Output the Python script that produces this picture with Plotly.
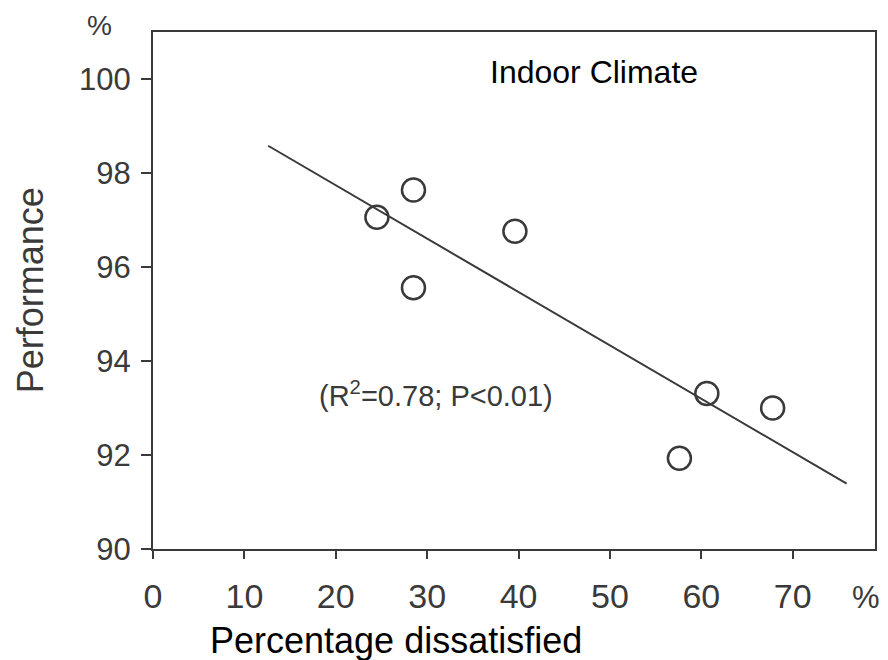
import plotly.graph_objects as go

# Data
dissatisfied = [24.5, 28.5, 28.5, 39.6, 60.6, 67.8, 57.6]
performance = [97.06, 97.64, 95.56, 96.76, 93.31, 93.0, 91.93]

# Regression line end points as drawn
fit_x = [12.6, 75.9]
fit_y = [98.58, 91.39]

x_ticks = [0, 10, 20, 30, 40, 50, 60, 70]
y_ticks = [90, 92, 94, 96, 98, 100]

INK = "#3a3a3a"
FONT = "Liberation Sans, Arial, sans-serif"

L, R, T, B = 153, 877, 32, 549
PW, PH = R - L, B - T


def px(xp):
    return (xp - L) / PW


def py(yp):
    return (B - yp) / PH


fig = go.Figure()
fig.add_trace(go.Scatter(
    x=fit_x, y=fit_y, mode="lines",
    line=dict(color=INK, width=2), showlegend=False, hoverinfo="skip"))
fig.add_trace(go.Scatter(
    x=dissatisfied, y=performance, mode="markers",
    marker=dict(symbol="circle-open", size=23, color=INK, line=dict(width=2.5, color=INK)),
    showlegend=False))

fig.update_layout(
    width=888, height=660,
    margin=dict(l=L, r=888 - R, t=T, b=660 - B),
    paper_bgcolor="white", plot_bgcolor="white",
    font=dict(family=FONT, color=INK),
    xaxis=dict(range=[0, 79], tickvals=x_ticks, ticktext=[str(v) for v in x_ticks],
               showgrid=False, zeroline=False, showline=True, mirror=True,
               linecolor=INK, linewidth=2, ticks="outside", ticklen=8, tickwidth=1.5,
               tickcolor=INK, ticklabelstandoff=8,
               tickfont=dict(size=34, color=INK, family=FONT)),
    yaxis=dict(range=[90, 101], tickvals=y_ticks, ticktext=[str(v) for v in y_ticks],
               showgrid=False, zeroline=False, showline=True, mirror=True,
               linecolor=INK, linewidth=2, ticks="outside", ticklen=10, tickwidth=1.5,
               tickcolor=INK, ticklabelstandoff=4,
               tickfont=dict(size=31, color=INK, family=FONT)),
)

fig.add_annotation(text="Performance", xref="paper", yref="paper",
                   x=px(30), y=py(290), textangle=-90, showarrow=False,
                   xanchor="center", yanchor="middle",
                   font=dict(size=36, color=INK, family=FONT))
fig.add_annotation(text="Indoor Climate", xref="paper", yref="paper",
                   x=px(595), y=py(72), showarrow=False,
                   xanchor="center", yanchor="middle",
                   font=dict(size=32, color="black", family=FONT))
fig.add_annotation(text="(R<sup>2</sup>=0.78; P<0.01)", xref="paper", yref="paper",
                   x=px(437), y=py(394), showarrow=False,
                   xanchor="center", yanchor="middle",
                   font=dict(size=29, color=INK, family=FONT))
fig.add_annotation(text="Percentage dissatisfied", xref="paper", yref="paper",
                   x=px(397), y=py(640), showarrow=False,
                   xanchor="center", yanchor="middle",
                   font=dict(size=36, color="black", family=FONT))
fig.add_annotation(text="%", xref="paper", yref="paper",
                   x=px(868), y=py(597), showarrow=False,
                   xanchor="center", yanchor="middle",
                   font=dict(size=31, color=INK, family=FONT))
fig.add_annotation(text="%", xref="paper", yref="paper",
                   x=px(99), y=py(26), showarrow=False,
                   xanchor="center", yanchor="middle",
                   font=dict(size=28, color=INK, family=FONT))

fig.write_html("out.html", config={"displayModeBar": False},
               post_script="document.body.style.margin='0';")
